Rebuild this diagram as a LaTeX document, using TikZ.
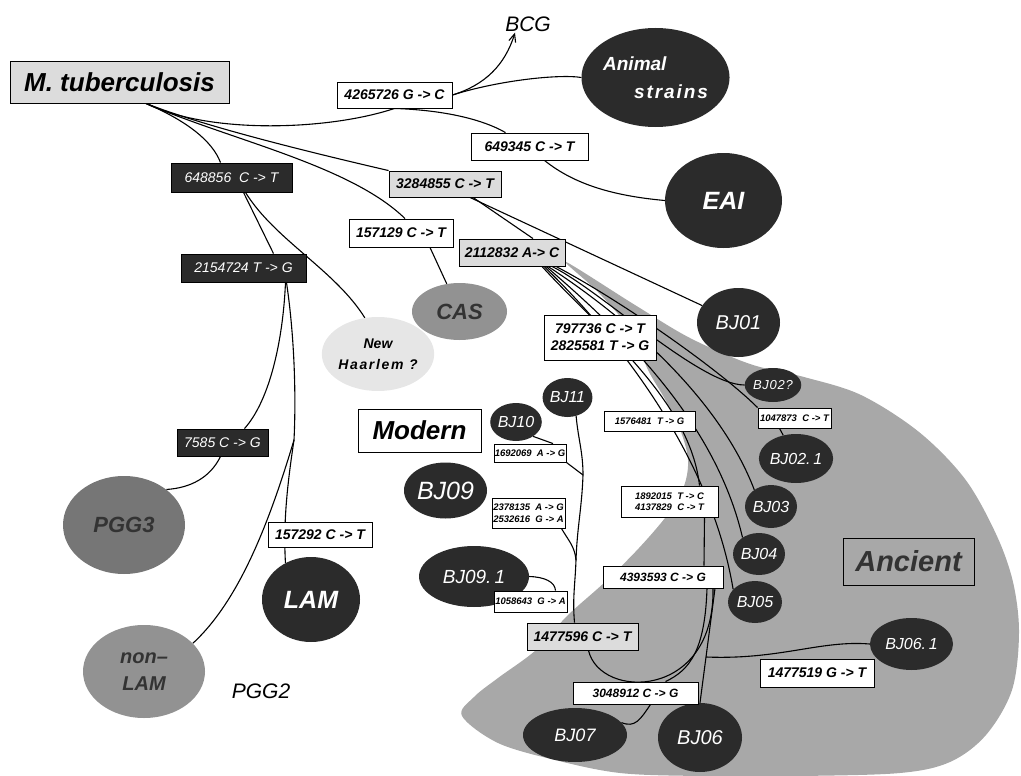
\documentclass[tikz,border=0pt]{standalone}
\usepackage{fontspec}
\setmainfont{Liberation Sans}
\usetikzlibrary{shapes.geometric, arrows.meta}
\definecolor{TB_Dark}{HTML}{2B2B2B}
\definecolor{TB_Mid}{HTML}{767676}
\definecolor{TB_Pale}{HTML}{929292}
\definecolor{TB_Light}{HTML}{DCDCDC}
\definecolor{TB_Fog}{HTML}{E6E6E6}
\definecolor{TB_Shade}{HTML}{A8A8A8}
\definecolor{TB_Ink}{HTML}{333333}
\newcommand{\tbsize}[2]{\fontsize{#1}{#2}\selectfont}
\pgfdeclarelayer{shade}
\pgfdeclarelayer{branches}
\pgfsetlayers{shade,branches,main}

\begin{document}
\begin{tikzpicture}[
    x=1pt, y=-1pt,
    sz/.style 2 args={minimum width=#1, minimum height=#2},
    snp/.style={draw=black, line width=0.9pt, fill=white, inner sep=0pt,
        font=\tbsize{14}{17}\bfseries\itshape},
    snpmid/.style={snp, font=\tbsize{12}{14}\bfseries\itshape},
    snpsmall/.style={snp, font=\tbsize{9.5}{11.5}\bfseries\itshape},
    snppale/.style={snp, fill=TB_Light},
    snpdark/.style={snp, fill=TB_Dark, text=white, font=\tbsize{14}{17}\itshape},
    clade/.style={ellipse, fill=TB_Dark, text=white, inner sep=0pt,
        font=\tbsize{16}{19}\itshape},
    family/.style={ellipse, fill=TB_Mid, text=TB_Ink, inner sep=0pt, align=center,
        font=\tbsize{22}{26}\bfseries\itshape},
    era/.style={draw=black, line width=0.9pt, inner sep=0pt,
        font=\tbsize{26}{30}\bfseries\itshape},
    branch/.style={line width=1.1pt}
]
\useasboundingbox (0,0) rectangle (1021,776);

% lineages
\node[clade, sz={117}{99}, align=left, font=\tbsize{19}{28}\bfseries\itshape] (animal) at (655.5,77.5)
    {Animal\\\hspace*{31pt}{\addfontfeatures{LetterSpace=10}strains}};
\node[clade, sz={117}{95}, font=\tbsize{25}{28}\bfseries\itshape] (eai) at (723.5,200.5) {EAI};
\node[family, sz={95}{57}, fill=TB_Pale] (cas) at (459.5,311.5) {CAS};
\node[family, sz={84}{74}, fill=TB_Fog, text=black, font=\tbsize{14}{21}\bfseries\itshape] (newh) at (378,354)
    {New\\{\addfontfeatures{LetterSpace=12}Haarlem ?}};
\node[clade, sz={83}{69}, font=\tbsize{20}{22}\itshape] (bj01) at (738.5,322.5) {BJ01};
\node[clade, sz={52}{34}, font=\tbsize{13}{15}\itshape\addfontfeatures{LetterSpace=6}] (bj02q) at (773,385) {BJ02?};
\node[clade, sz={62}{49}] (bj021) at (796,458.5) {BJ02.\,1};
\node[clade, sz={52}{43}] (bj03) at (771,506.5) {BJ03};
\node[clade, sz={52}{42}] (bj04) at (759,554) {BJ04};
\node[clade, sz={54}{42}] (bj05) at (755,602) {BJ05};
\node[clade, sz={83}{52}] (bj061) at (911.5,644) {BJ06.\,1};
\node[clade, sz={49}{39}] (bj11) at (567.5,397.5) {BJ11};
\node[clade, sz={48}{38}] (bj10) at (516,422) {BJ10};
\node[clade, sz={83}{56}, font=\tbsize{25}{28}\itshape] (bj09) at (445.5,490.5) {BJ09};
\node[clade, sz={110}{61}, font=\tbsize{19}{22}\itshape] (bj091) at (474,576.5) {BJ09.\,1};
\node[clade, sz={104}{54}, font=\tbsize{18}{21}\itshape] (bj07) at (575,735) {BJ07};
\node[clade, sz={84}{69}, font=\tbsize{20}{22}\itshape] (bj06) at (700,737.5) {BJ06};
\node[clade, sz={98}{85}, font=\tbsize{25}{28}\bfseries\itshape] (lam) at (311,599.5) {LAM};
\node[family, sz={122}{98}] (pgg3) at (124,525) {PGG3};
\node[family, sz={122}{93}, fill=TB_Pale, font=\tbsize{20}{27}\bfseries\itshape] (nonlam) at (144,671.5) {non--\\LAM};
\node[inner sep=1pt, font=\tbsize{21}{23}\itshape] (bcg) at (528,24) {BCG};
\node[inner sep=1pt, font=\tbsize{21}{24}\itshape] (pgg2) at (261,691) {PGG2};

% root and mutation boxes
\node[snppale, sz={219}{42}, font=\tbsize{26}{28}\bfseries\itshape] (mtb) at (119.5,82) {M. tuberculosis};
\node[snp, sz={115}{26}] (m4265726) at (394.5,95) {4265726 G -> C};
\node[snp, sz={117}{27}] (m649345) at (529.5,146.5) {649345 C -> T};
\node[snpdark, sz={121}{29}] (m648856) at (231.5,177.5) {648856 \ C -> T};
\node[snppale, sz={112}{26}] (m3284855) at (445,184) {3284855 C -> T};
\node[snp, sz={104}{28}] (m157129) at (401,233) {157129 C -> T};
\node[snppale, sz={106}{27}] (m2112832) at (512,252.5) {2112832 A-> C};
\node[snpdark, sz={125}{28}] (m2154724) at (243.5,268) {2154724 T -> G};
\node[snp, sz={112}{45}, align=center] (m797736) at (600,337.5) {797736 C -> T\\2825581 T -> G};
\node[snpsmall, sz={73}{20}] (m1047873) at (794.5,418) {1047873 \ C -> T};
\node[snpsmall, sz={91}{20}] (m1576481) at (649.5,421) {1576481 \ T -> G};
\node[snpsmall, sz={72}{18}] (m1692069) at (530,453) {1692069 \ A -> G};
\node[snpsmall, sz={73}{30}, align=center] (m2378135) at (528.5,513) {2378135 \ A -> G\\2532616 \ G -> A};
\node[snpsmall, sz={97}{31}, align=center] (m1892015) at (669.5,501.5) {1892015 \ T -> C\\4137829 \ C -> T};
\node[snpdark, sz={91}{27}] (m7585) at (222.5,442.5) {7585 C -> G};
\node[snp, sz={104}{25}] (m157292) at (320,534.5) {157292 C -> T};
\node[snpmid, sz={120}{22}] (m4393593) at (663,577) {4393593 C -> G};
\node[snpsmall, sz={73}{21}] (m1058643) at (530.5,601.5) {1058643 \ G -> A};
\node[snppale, sz={111}{27}] (m1477596) at (582.5,636.5) {1477596 C -> T};
\node[snp, sz={114}{28}] (m1477519) at (817,673) {1477519 G -> T};
\node[snpmid, sz={125}{22}] (m3048912) at (635.5,693) {3048912 C -> G};

% era labels
\node[era, fill=white, sz={123}{43}] (modern) at (419.5,430.5) {Modern};
\node[era, sz={131}{47}, text=TB_Ink, font=\tbsize{29}{32}\bfseries\itshape] (ancient) at (908.5,561.5) {Ancient};

% branch points
\coordinate (root) at (145,103);
\coordinate (lamsplit) at (294,440);
\coordinate (j10) at (583,475);
\coordinate (j09) at (576,560);
\coordinate (j061) at (706,657);

\begin{pgfonlayer}{shade}
\fill[TB_Shade] plot[smooth cycle, tension=0.55] coordinates {
    (566,262) (635,305) (690,338) (750,364) (804,377) (861,395) (919,432)
    (965,479) (996,534) (1013,582) (1019,633) (1012,690) (986,735) (950,762)
    (900,773) (800,776) (700,776) (620,773) (555,760) (498,743) (462,716)
    (474,697) (498,678) (536,650) (567,616) (605,582) (639,548) (668,514)
    (684,486) (688,460) (681,432) (666,401) (648,370) (632,332) (598,292)};
\end{pgfonlayer}

\begin{pgfonlayer}{branches}
% from the root
\draw[branch] (root) .. controls (210,135) and (330,130) .. (m4265726.south);
\draw[branch] (m4265726.south) .. controls (440,110) and (480,118) .. ([xshift=-24pt]m649345.north);
\draw[branch] (root) .. controls (200,125) and (300,150) .. (m3284855.north west);
\draw[branch] (root) .. controls (230,140) and (350,165) .. ([xshift=4pt]m157129.north);
\draw[branch] (root) .. controls (185,120) and (212,140) .. ([xshift=-11pt]m648856.north);

% BCG, animal strains, EAI
\draw[branch, -{Straight Barb[length=8pt, width=7pt]}] (m4265726.east) .. controls (485,85) and (505,65) .. ([xshift=-13pt]bcg.south);
\draw[branch] (m4265726.east) .. controls (500,80) and (560,74) .. (animal.west);
\draw[branch] ([xshift=15pt]m649345.south) .. controls (575,185) and (615,196) .. (eai.west);

% Beijing family and CAS
\draw[branch] ([xshift=25pt]m3284855.south) -- (bj01);
\draw[branch] ([xshift=28pt]m3284855.south) -- ([xshift=21pt]m2112832.north);
\draw[branch] ([xshift=29pt]m157129.south) -- (cas);

% PGG2 / PGG3 side
\draw[branch] ([xshift=12pt]m648856.south) -- ([xshift=30pt]m2154724.north);
\draw[branch] ([xshift=14pt]m648856.south) .. controls (275,240) and (335,270) .. (newh.110);
\draw[branch] ([xshift=42pt]m2154724.south) .. controls (283,340) and (270,400) .. ([xshift=22pt]m7585.north);
\draw[branch] ([xshift=43pt]m2154724.south) .. controls (295,340) and (296,400) .. (lamsplit);
\draw[branch] (lamsplit) .. controls (288,480) and (283,520) .. (lam.125);
\draw[branch] (lamsplit) .. controls (270,520) and (240,600) .. (nonlam.30);
\draw[branch] ([xshift=-2pt]m7585.south) .. controls (210,478) and (190,488) .. (pgg3.40);

% ancient wedge
\draw[branch] ([xshift=40pt]m2112832.south) .. controls (600,290) and (700,385) .. (bj02q.west);
\draw[branch] ([xshift=44pt]m2112832.south) .. controls (620,300) and (720,370) .. (m1047873.north west);
\draw[branch] ([xshift=-15pt]m1047873.south) -- (bj021);
\draw[branch] ([xshift=36pt]m2112832.south) .. controls (630,320) and (720,400) .. (bj03.135);
\draw[branch] ([xshift=34pt]m2112832.south) .. controls (620,330) and (715,420) .. (bj04.135);
\draw[branch] ([xshift=32pt]m2112832.south) .. controls (610,330) and (710,450) .. (bj05.150);
\draw[branch] ([xshift=30pt]m2112832.south) .. controls (600,330) and (690,400) .. ([xshift=30pt]m1892015.north);
\draw[branch] ([xshift=35pt]m1892015.south) -- ([xshift=41pt]m4393593.north);
\draw[branch] ([xshift=52pt]m4393593.south) -- (bj06.north);
\draw[branch] ([xshift=6pt]m1477596.south) .. controls (600,700) and (715,700) .. ([xshift=50pt]m4393593.south);
\draw[branch] ([xshift=44pt]m4393593.south) .. controls (705,650) and (690,670) .. ([xshift=30pt]m3048912.north);
\draw[branch] ([xshift=15pt]m3048912.south) .. controls (640,720) and (635,728) .. (bj07.15);
\draw[branch] (bj061.west) .. controls (820,640) and (780,660) .. (j061);

% modern Beijing
\draw[branch] (bj11.-65) to[out=-85, in=90] (j10) to[out=-92, in=88] (j09) to[out=-92, in=95] ([xshift=-8pt]m1477596.north);
\draw[branch] (bj10.-40) -- ([xshift=23pt]m1692069.north);
\draw[branch] (m1692069.south east) -- (j10);
\draw[branch] ([xshift=-4pt]m2378135.south east) to[out=-60, in=95] (j09);
\draw[branch] (bj091.east) .. controls (545,577) and (555,582) .. ([xshift=25pt]m1058643.north);
\end{pgfonlayer}

\end{tikzpicture}
\end{document}
